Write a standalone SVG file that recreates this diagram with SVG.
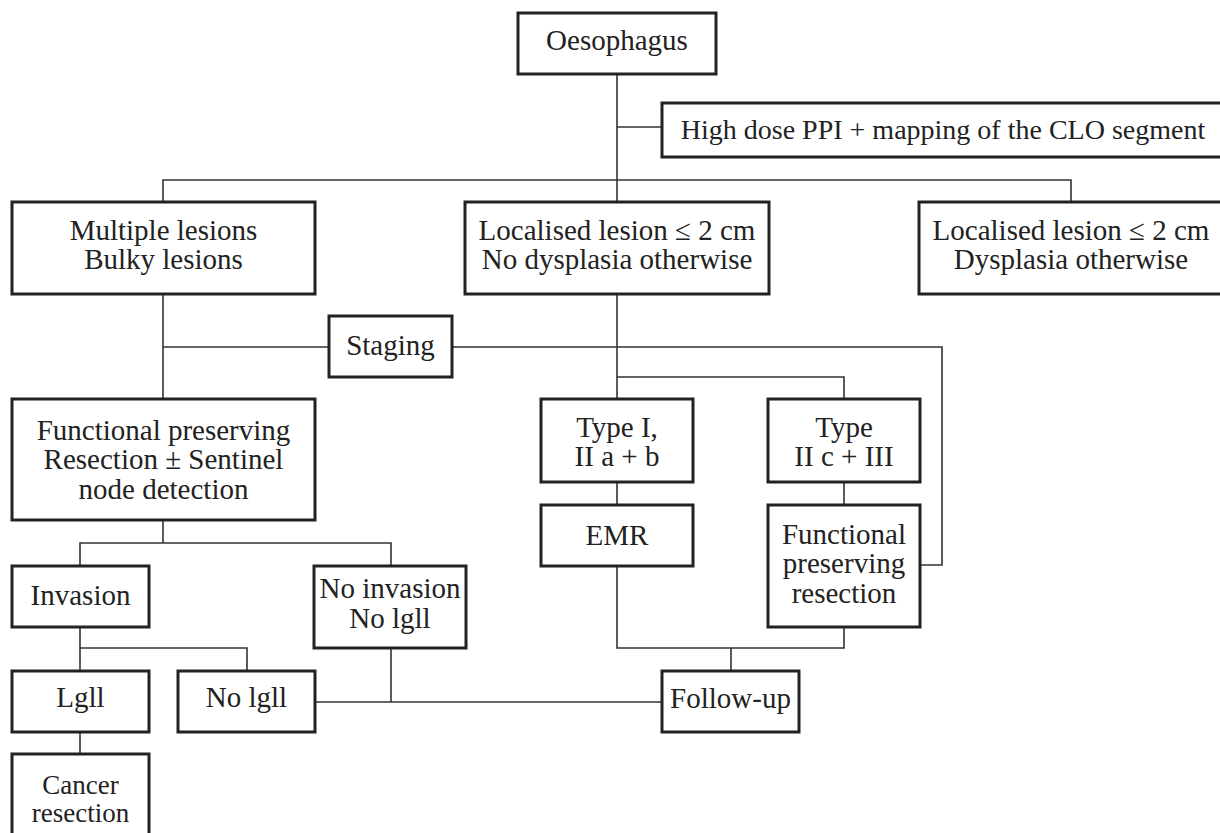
<svg xmlns="http://www.w3.org/2000/svg" width="1220" height="833" viewBox="0 0 1220 833">
<style>
.box{fill:#fff;stroke:#222;stroke-width:3}
.c{fill:none;stroke:#333;stroke-width:1.6}
text{font-family:"Liberation Serif","DejaVu Serif",serif;font-size:29px;fill:#222;text-anchor:middle}
.s{font-size:27px}
</style>
<rect width="1220" height="833" fill="#fff"/>
<g id="connectors">
<path class="c" d="M617,74V399"/>
<path class="c" d="M617,127H662"/>
<path class="c" d="M163,202V180H1071V202"/>
<path class="c" d="M163,294V399"/>
<path class="c" d="M163,347H329"/>
<path class="c" d="M452,347H942V565H920"/>
<path class="c" d="M617,377H844V399"/>
<path class="c" d="M617,482V505"/>
<path class="c" d="M844,482V505"/>
<path class="c" d="M617,566V648H844V627"/>
<path class="c" d="M731,648V671"/>
<path class="c" d="M163,520V543"/>
<path class="c" d="M80,566V543H391V566"/>
<path class="c" d="M80,627V671"/>
<path class="c" d="M80,648H247V671"/>
<path class="c" d="M391,648V702"/>
<path class="c" d="M315,702H662"/>
<path class="c" d="M80,732V754"/>
</g>
<g id="oesophagus"><rect class="box" x="518" y="13" width="198" height="61"/><text x="617" y="50">Oesophagus</text></g>
<g id="highdose"><rect class="box" x="662" y="103" width="565" height="54"/><text x="943" y="139" style="font-size:28px">High dose PPI + mapping of the CLO segment</text></g>
<g id="multiple"><rect class="box" x="12" y="202" width="303" height="92"/><text x="163.5" y="240">Multiple lesions</text><text x="163.5" y="269">Bulky lesions</text></g>
<g id="localised-nodys"><rect class="box" x="465" y="202" width="304" height="92"/><text x="617" y="240">Localised lesion ≤ 2 cm</text><text x="617" y="269">No dysplasia otherwise</text></g>
<g id="localised-dys"><rect class="box" x="919" y="202" width="308" height="92"/><text x="1071" y="240">Localised lesion ≤ 2 cm</text><text x="1071" y="269">Dysplasia otherwise</text></g>
<g id="staging"><rect class="box" x="329" y="316" width="123" height="61"/><text x="390.5" y="355">Staging</text></g>
<g id="functional"><rect class="box" x="12" y="399" width="303" height="121"/><text x="163.5" y="440">Functional preserving</text><text x="163.5" y="469">Resection ± Sentinel</text><text x="163.5" y="499">node detection</text></g>
<g id="type1"><rect class="box" x="541" y="399" width="152" height="83"/><text x="617" y="437">Type I,</text><text x="617" y="466">II a + b</text></g>
<g id="type2"><rect class="box" x="768" y="399" width="152" height="83"/><text x="844" y="437">Type</text><text x="844" y="466">II c + III</text></g>
<g id="emr"><rect class="box" x="541" y="505" width="152" height="61"/><text x="617" y="545">EMR</text></g>
<g id="fpr"><rect class="box" x="768" y="505" width="152" height="122"/><text x="844" y="544">Functional</text><text x="844" y="573">preserving</text><text x="844" y="603">resection</text></g>
<g id="invasion"><rect class="box" x="12" y="566" width="137" height="61"/><text x="80.5" y="605">Invasion</text></g>
<g id="noinvasion"><rect class="box" x="314" y="566" width="152" height="82"/><text x="390" y="598">No invasion</text><text x="390" y="628">No lgll</text></g>
<g id="lgll"><rect class="box" x="12" y="671" width="137" height="61"/><text x="80.5" y="707">Lgll</text></g>
<g id="nolgll"><rect class="box" x="178" y="671" width="137" height="61"/><text x="246.5" y="707">No lgll</text></g>
<g id="followup"><rect class="box" x="662" y="671" width="137" height="61"/><text x="730.5" y="708">Follow-up</text></g>
<g id="cancer"><rect class="box" x="12" y="754" width="137" height="90"/><text class="s" x="80.5" y="794">Cancer</text><text class="s" x="80.5" y="822">resection</text></g>
</svg>
